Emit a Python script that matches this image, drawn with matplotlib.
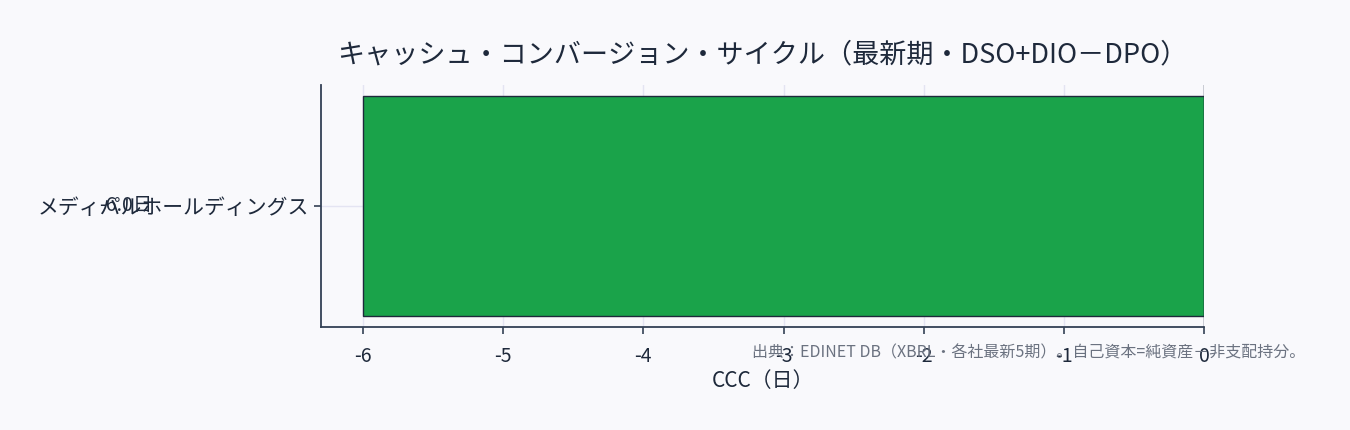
import matplotlib
matplotlib.use('Agg')
from matplotlib import pyplot as plt

plt.rcParams['font.family'] = ['Noto Sans CJK JP', 'DejaVu Sans']
plt.rcParams['axes.unicode_minus'] = False

companies = ['メディパルホールディングス']
ccc_days = [-6.0]

title = 'キャッシュ・コンバージョン・サイクル（最新期・DSO+DIO－DPO）'
xlabel = 'CCC（日）'
footnote = '出典：EDINET DB（XBRL・各社最新5期）。自己資本=純資産－非支配持分。'

bg = '#f9f9fc'
text_color = '#1e293b'


def main():
    fig = plt.figure(figsize=(13.5, 4.3), dpi=100, facecolor=bg)
    ax = fig.add_axes([321 / 1350, 1 - 327 / 430, (1204 - 321) / 1350, (327 - 85) / 430])
    ax.set_facecolor(bg)

    ax.barh(companies, ccc_days, height=0.8, color='#1aa34a',
            edgecolor='#1e293b', linewidth=1.0, zorder=3)
    ax.axvline(0, color='#1e293b', linewidth=1.0, zorder=4)

    span = max(abs(v) for v in ccc_days)
    for i, v in enumerate(ccc_days):
        ax.text(v - span * 0.25, i, f'{v:.1f}日', ha='right', va='center',
                fontsize=14, color=text_color, clip_on=False)

    ax.set_xlim(min(ccc_days) - 0.3, 0)
    ax.set_ylim(-0.44, 0.44)

    ax.grid(True, color='#e4e4f2', linewidth=1.0, zorder=0)
    ax.set_axisbelow(True)
    for side in ['top', 'right']:
        ax.spines[side].set_visible(False)
    for side in ['left', 'bottom']:
        ax.spines[side].set_color('#334155')
        ax.spines[side].set_linewidth(1.3)
    ax.tick_params(axis='both', colors='#334155', labelcolor=text_color,
                   labelsize=14, length=5, width=1.2)
    ax.tick_params(axis='y', labelsize=15)
    ax.tick_params(axis='x', pad=9)

    ax.set_xlabel(xlabel, fontsize=15, color=text_color, labelpad=2)
    ax.set_title(title, fontsize=19.5, color=text_color, pad=16)

    fig.text(1305 / 1350, 1 - 353 / 430, footnote, ha='right', va='center',
             fontsize=11.5, color='#6b7280')

    fig.savefig('out.png', dpi=100, facecolor=bg)


if __name__ == '__main__':
    main()
